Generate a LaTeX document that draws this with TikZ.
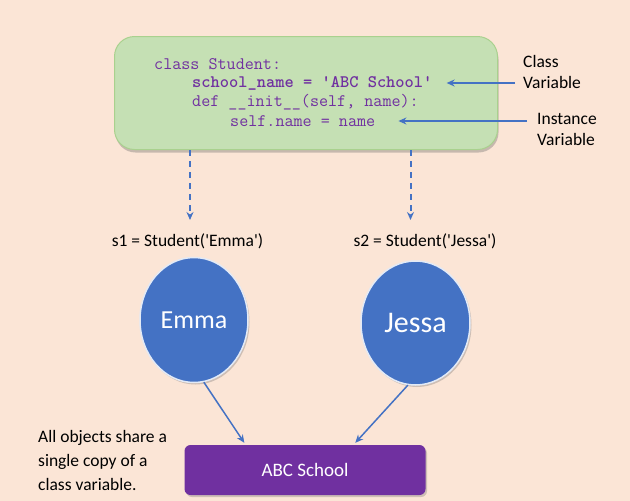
\documentclass[tikz,border=0pt]{standalone}
\usepackage{fontspec}
\setmainfont{Carlito}
\usetikzlibrary{arrows.meta,shadows,shapes.geometric}
\definecolor{bgpeach}{HTML}{FBE5D6}
\definecolor{boxgreen}{HTML}{C5E0B4}
\definecolor{boxgreenline}{HTML}{A9D18E}
\definecolor{arrblue}{HTML}{4472C4}
\definecolor{codepurple}{HTML}{7030A0}
\newcommand\myq{\textquotesingle}
\begin{document}
\begin{tikzpicture}[x=1pt,y=-1pt,
  conn/.style={draw=arrblue, line width=1.5pt, -{Stealth[length=8pt,width=7pt]}},
  dconn/.style={conn, line width=2pt, dash pattern=on 6pt off 5pt},
  codebox/.style={draw=boxgreenline, line width=1pt, fill=boxgreen, rounded corners=20pt,
    drop shadow={shadow xshift=1pt, shadow yshift=-3pt, opacity=0.35, fill=black!60}},
  codeline/.style={anchor=west, inner sep=0pt, text=codepurple, font=\ttfamily\fontsize{17.6}{19}\selectfont},
  lbl/.style={inner sep=0pt, align=left, font=\fontsize{17.5}{21}\selectfont},
  obj/.style={ellipse, fill=arrblue, draw=white!85!arrblue, line width=1.5pt, inner sep=0pt,
    minimum width=108pt, minimum height=125pt, text=white,
    drop shadow={shadow xshift=1.5pt, shadow yshift=-2pt, opacity=0.3, fill=black!60}},
  shared/.style={fill=codepurple, rounded corners=6pt, minimum width=241pt, minimum height=50pt,
    text=white, font=\fontsize{19}{22}\selectfont,
    drop shadow={shadow xshift=1.5pt, shadow yshift=-2pt, opacity=0.3, fill=black!60}}]
\useasboundingbox (0,0) rectangle (630,501);
\fill[bgpeach] (0,0) rectangle (630,501);

% class box
\node[codebox, minimum width=383pt, minimum height=113pt, anchor=north west] (cls) at (114,36) {};
\node[codeline] (l1) at (154,64) {class Student:};
\node[codeline, font=\ttfamily\bfseries\fontsize{17.6}{19}\selectfont] (l2) at (192,83) {school\_name = \myq ABC School\myq};
\node[codeline] (l3) at (192,102) {def \_\_init\_\_(self, name):};
\node[codeline] (l4) at (230,121) {self.name = name};

% side labels
\node[lbl, anchor=west] (cv) at (523,71.5) {Class\\Variable};
\node[lbl, anchor=west] (iv) at (537,129) {Instance\\Variable};
\draw[conn] ([xshift=-8pt]cv.west |- l2.east) -- ([xshift=14pt]l2.east);
\draw[conn] ([xshift=-10pt]iv.west |- l4.east) -- ([xshift=23pt]l4.east);

% instance labels
\node[lbl] (s1) at (187.5,241) {s1 = Student(\myq Emma\myq)};
\node[lbl] (s2) at (425,241) {s2 = Student(\myq Jessa\myq)};
\coordinate (d1) at (190,220);
\coordinate (d2) at (410.5,220);
\draw[dconn] (cls.south -| d1) -- (d1);
\draw[dconn] (cls.south -| d2) -- (d2);

% objects
\node[obj, font=\fontsize{26}{30}\selectfont] (emma) at (194,320) {Emma};
\node[obj, font=\fontsize{30}{34}\selectfont, minimum width=109pt, minimum height=124pt] (jessa) at (415.5,323) {Jessa};

% shared class variable
\node[shared] (abc) at (305,470) {ABC School};
\draw[conn] (emma.-81) -- ([xshift=60pt, yshift=2pt]abc.north west);
\draw[conn] (jessa.-97) -- ([xshift=171pt, yshift=2pt]abc.north west);

\node[lbl, anchor=west, font=\fontsize{17.5}{24}\selectfont] (note) at (38,460) {All objects share a\\single copy of a\\class variable.};
\end{tikzpicture}
\end{document}
